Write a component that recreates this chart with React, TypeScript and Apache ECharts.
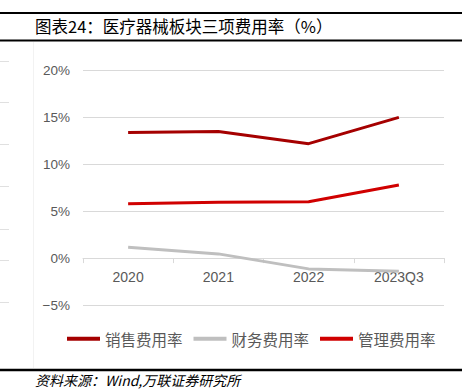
import React, { useEffect, useRef } from "react";
import * as echarts from "echarts";

const categories = ["2020", "2021", "2022", "2023Q3"];
const salesRate = [13.4, 13.5, 12.2, 15.0];
const financeRate = [1.15, 0.45, -1.15, -1.4];
const mgmtRate = [5.8, 5.95, 6.0, 7.8];
const seriesNames = ["销售费用率", "财务费用率", "管理费用率"];
const title = "图表24：医疗器械板块三项费用率（%）";
const source = "资料来源：Wind,万联证券研究所";

export default function App() {
  const ref = useRef<HTMLDivElement>(null);
  useEffect(() => {
    document.body.style.margin = "0";
    if (!ref.current) return;
    const chart = echarts.init(ref.current, null, { renderer: "svg" });
    const cjk = "'Noto Sans CJK SC', sans-serif";
    const latin = "'Liberation Sans', Arial, sans-serif";
    const leftMarks = [61, 102, 144, 186, 229, 260, 302];
    const gridTop = 70.5;
    const gridBottomY = 305;
    const yMin = -5;
    const yMax = 20;
    const zeroY = gridTop + ((yMax - 0) / (yMax - yMin)) * (gridBottomY - gridTop);
    chart.setOption({
      animation: false,
      backgroundColor: "#ffffff",
      grid: { left: 83, right: 27, top: gridTop, bottom: 390 - gridBottomY, containLabel: false },
      legend: {
        left: 62,
        top: 326,
        icon: "rect",
        itemWidth: 33,
        itemHeight: 4,
        itemGap: 11,
        textStyle: { color: "#595959", fontSize: 15.5, fontFamily: cjk },
        data: seriesNames,
      },
      xAxis: {
        type: "category",
        data: categories,
        boundaryGap: true,
        offset: -(gridBottomY - zeroY),
        axisLine: { onZero: false, lineStyle: { color: "#D9D9D9", width: 1 } },
        axisTick: { show: true, length: 5, lineStyle: { color: "#D9D9D9" } },
        axisLabel: { color: "#595959", fontSize: 14, fontFamily: latin, margin: 12 },
      },
      yAxis: {
        type: "value",
        min: yMin,
        max: yMax,
        interval: 5,
        axisLine: { show: false },
        axisTick: { show: false },
        splitLine: { lineStyle: { color: "#D9D9D9", width: 1 } },
        axisLabel: {
          color: "#595959",
          fontSize: 13.5,
          fontFamily: latin,
          margin: 13,
          formatter: (v: number) => (v < 0 ? "−" + Math.abs(v) : String(v)) + "%",
        },
      },
      series: [
        {
          name: seriesNames[0],
          type: "line",
          data: salesRate,
          showSymbol: false,
          lineStyle: { color: "#A50000", width: 3 },
          itemStyle: { color: "#A50000" },
        },
        {
          name: seriesNames[1],
          type: "line",
          data: financeRate,
          showSymbol: false,
          lineStyle: { color: "#BFBFBF", width: 3 },
          itemStyle: { color: "#BFBFBF" },
        },
        {
          name: seriesNames[2],
          type: "line",
          data: mgmtRate,
          showSymbol: false,
          lineStyle: { color: "#D00000", width: 3 },
          itemStyle: { color: "#D00000" },
        },
      ],
      graphic: [
        { type: "line", shape: { x1: 0, y1: 13, x2: 462, y2: 13 }, style: { stroke: "#000", lineWidth: 2 } },
        { type: "line", shape: { x1: 0, y1: 40.5, x2: 462, y2: 40.5 }, style: { stroke: "#000", lineWidth: 2 } },
        { type: "line", shape: { x1: 0, y1: 370, x2: 462, y2: 370 }, style: { stroke: "#000", lineWidth: 2.5 } },
        { type: "line", shape: { x1: 33.5, y1: 42, x2: 33.5, y2: 368 }, style: { stroke: "#F2F2F2", lineWidth: 1 } },
        ...leftMarks.map((y) => ({
          type: "line",
          shape: { x1: 0, y1: y + 0.5, x2: 9, y2: y + 0.5 },
          style: { stroke: "#E0E0E0", lineWidth: 1 },
        })),
        {
          type: "text",
          left: 35,
          top: 18,
          style: { text: title, fill: "#000", fontSize: 16.5, fontFamily: cjk },
        },
        {
          type: "text",
          left: 35,
          top: 373,
          style: { text: source, fill: "#000", fontSize: 14, fontStyle: "italic", fontFamily: cjk },
        },
      ],
    });
    return () => chart.dispose();
  }, []);
  return <div ref={ref} style={{ width: 471, height: 390 }} />;
}
